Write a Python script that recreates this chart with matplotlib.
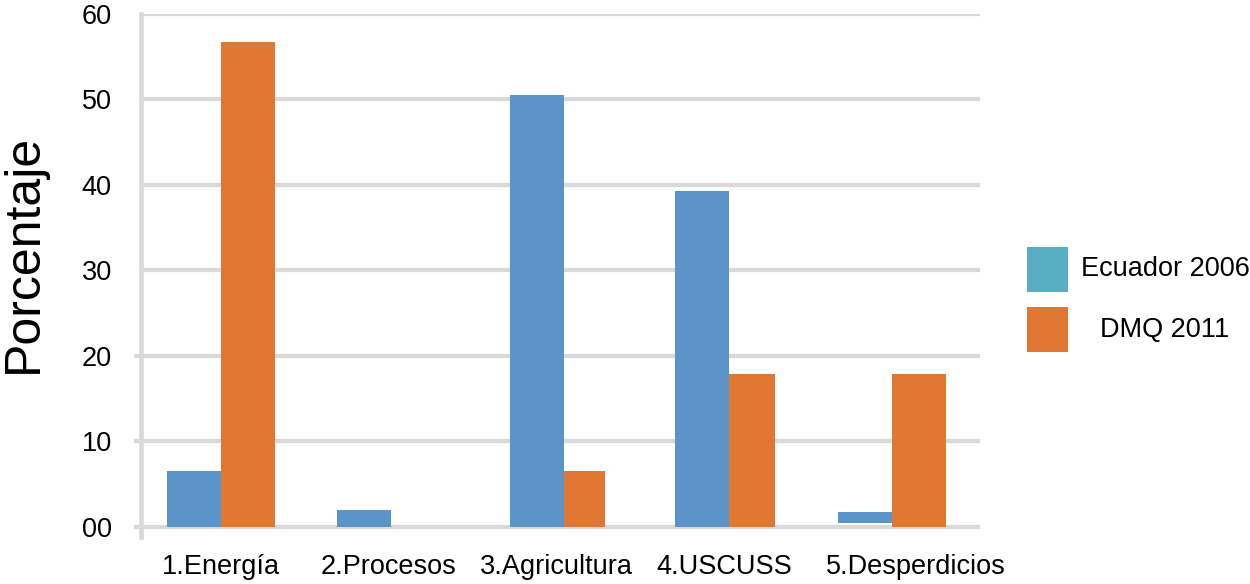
import matplotlib
matplotlib.use("Agg")
import matplotlib.pyplot as plt
import matplotlib.transforms as mtransforms
from matplotlib.patches import Rectangle
import numpy as np

plt.rcParams['font.family'] = ['Liberation Sans', 'DejaVu Sans']

categories = ["1.Energía", "2.Procesos", "3.Agricultura", "4.USCUSS", "5.Desperdicios"]
series_names = ["Ecuador 2006", "DMQ 2011"]
ecuador_2006 = [6.5, 2.0, 50.5, 39.3, 1.2]
ecuador_base = [0.0, 0.0, 0.0, 0.0, 0.5]
dmq_2011 = [56.7, 0.0, 6.6, 17.9, 17.9]
y_ticks = [0, 10, 20, 30, 40, 50, 60]
y_tick_labels = ["00", "10", "20", "30", "40", "50", "60"]

blue = "#5B94C8"
orange = "#E07834"
legend_teal = "#58AFC3"
grid_col = "#D9D9D9"

fig = plt.figure(figsize=(12.5, 5.84), dpi=100)
W, H = 1250, 584
left, right, top, bottom = 141, 980, 14, 537
ax = fig.add_axes([left / W, 1 - bottom / H, (right - left) / W, (bottom - top) / H])

x = np.arange(len(categories))
group_shift = np.array([0.0, 0.013, 0.045, 0.03, 0.0])
xc = x + group_shift
bw = 0.322
orange_w = [0.322, 0.322, 0.245, 0.27, 0.322]
ax.bar(xc - bw, ecuador_2006, width=bw, bottom=ecuador_base, align='edge',
       color=blue, zorder=3)
ax.bar(xc, dmq_2011, width=orange_w, align='edge', color=orange, zorder=3)

ax.set_xlim(-0.477, 4.523)
ax.set_ylim(-1.17, 60)
ax.set_yticks(y_ticks)
ax.set_yticklabels(y_tick_labels)
ax.set_xticks(x)
ax.set_xticklabels(categories)

ax.grid(axis='y', color=grid_col, linewidth=3.0, zorder=0)
ax.set_axisbelow(True)
for s in ['top', 'right', 'bottom']:
    ax.spines[s].set_visible(False)
ax.spines['left'].set_color(grid_col)
ax.spines['left'].set_linewidth(3.3)

ax.tick_params(axis='y', length=5, width=3.0, color=grid_col, pad=16,
               labelsize=19.5, labelcolor='black')
ax.tick_params(axis='x', length=0, pad=12, labelsize=19.5)
for t in ax.yaxis.get_major_ticks()[3:]:
    t.tick1line.set_visible(False)

# last category label sits a little to the right in the reference
last_lbl = ax.get_xticklabels()[-1]
last_lbl.set_transform(last_lbl.get_transform() +
                       mtransforms.ScaledTranslation(24 / 100, 0, fig.dpi_scale_trans))

fig.text(24 / W, 1 - 253 / H, "Porcentaje", rotation=90, ha='center',
         va='center', fontsize=36)

# legend
sw_x, sw_w, sw_h = 1027, 41, 45
rows = [(247, legend_teal), (307, orange)]
for (y0, col), name in zip(rows, series_names):
    fig.add_artist(Rectangle((sw_x / W, 1 - (y0 + sw_h) / H), sw_w / W, sw_h / H,
                             transform=fig.transFigure, facecolor=col,
                             edgecolor='none'))
    fig.text(1165 / W, 1 - (y0 + sw_h / 2) / H, name, ha='center', va='center',
             fontsize=19.5)

fig.savefig("out.png", dpi=100)
